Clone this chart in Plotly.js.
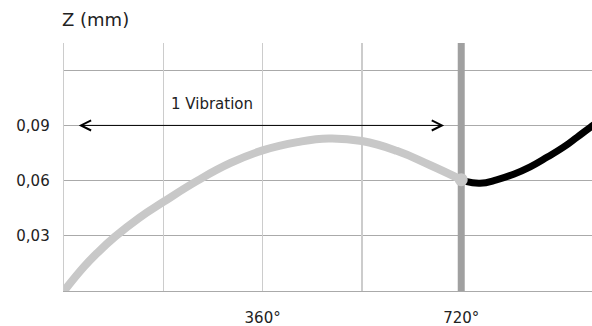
<!DOCTYPE html>
<html>
<head>
<meta charset="utf-8">
<script src="https://cdn.plot.ly/plotly-3.0.1.min.js"></script>
<style>html,body{margin:0;padding:0;background:#fff;}#chart{width:592px;height:326px;}</style>
</head>
<body>
<div id="chart"></div>
<script>
// Phase angle (degrees) and Z displacement (mm)
var vibrationDeg = [0, 36, 60, 92, 136, 180, 242, 302, 360, 423, 480, 540, 603, 663, 720];
var vibrationZ   = [0, 0.0131, 0.0206, 0.0294, 0.0397, 0.0484, 0.0600, 0.0696, 0.0764, 0.0809, 0.0829, 0.0815, 0.0762, 0.0685, 0.0605];
var nextDeg = [728, 754, 784, 815, 845, 876, 906, 930, 954, 975];
var nextZ   = [0.0596, 0.0586, 0.0604, 0.0635, 0.0675, 0.0728, 0.0783, 0.0836, 0.0890, 0.0935];
var xTickVals = [0, 180, 360, 540, 720];
var xTickText = ['', '', '360°', '', '720°'];
var gridDeg = [0, 180, 360, 540];
var yTickVals = [0.03, 0.06, 0.09, 0.12];
var yTickText = ['0,03', '0,06', '0,09', ''];
var xMax = 957, yMax = 0.1348;
var periodEnd = 720;
var arrowFrom = 24, arrowTo = 689, arrowZ = 0.09;
var arrowLabel = '1 Vibration';
var labelDeg = 268, labelZ = 0.1015;

var FONT = '"DejaVu Sans", "Open Sans", sans-serif';
var TXT = '#222';

var traces = [
  // invisible trace to activate the grid-only overlay axis
  {x: gridDeg, y: [0, 0, 0, 0], xaxis: 'x2', mode: 'lines', line: {width: 0}, hoverinfo: 'skip', showlegend: false, opacity: 0},
  // period boundary bar at 720°
  {x: [periodEnd, periodEnd], y: [0, yMax], mode: 'lines', line: {color: '#a0a0a0', width: 7}, hoverinfo: 'skip'},
  {x: vibrationDeg, y: vibrationZ, mode: 'lines', line: {color: '#c8c8c8', width: 8, shape: 'spline', smoothing: 1.3}, hoverinfo: 'skip'},
  {x: nextDeg, y: nextZ, mode: 'lines', line: {color: '#000', width: 7, shape: 'spline', smoothing: 1.3}, hoverinfo: 'skip'},
  {x: [vibrationDeg[vibrationDeg.length - 1]], y: [vibrationZ[vibrationZ.length - 1]], mode: 'markers', marker: {color: '#c8c8c8', size: 13}, hoverinfo: 'skip'}
];

var layout = {
  width: 592, height: 326,
  margin: {l: 64, r: 0, t: 43, b: 35},
  paper_bgcolor: '#fff', plot_bgcolor: '#fff',
  showlegend: false,
  font: {family: FONT, color: TXT, size: 15},
  title: {text: 'Z (mm)', x: 62 / 592, xanchor: 'left', xref: 'container', y: 1 - 20 / 326, yanchor: 'middle', yref: 'container', font: {family: FONT, size: 18, color: TXT}},
  xaxis: {
    range: [0, xMax], tickvals: xTickVals, ticktext: xTickText,
    showgrid: false, zeroline: false,
    showline: true, linecolor: '#aaaaaa', linewidth: 1,
    ticks: 'outside', ticklen: 13, tickcolor: 'rgba(0,0,0,0)',
    tickfont: {family: FONT, size: 15, color: TXT}, fixedrange: true
  },
  xaxis2: {
    overlaying: 'x', matches: 'x', range: [0, xMax], tickvals: gridDeg,
    showticklabels: false, ticks: '', showgrid: true, gridcolor: '#cccccc', gridwidth: 1.3,
    zeroline: false, showline: false, fixedrange: true
  },
  yaxis: {
    range: [0, yMax], tickvals: yTickVals, ticktext: yTickText,
    showgrid: true, gridcolor: '#aaaaaa', gridwidth: 1, zeroline: false,
    showline: true, linecolor: '#cccccc', linewidth: 1.3,
    ticks: 'outside', ticklen: 10, tickcolor: 'rgba(0,0,0,0)',
    tickfont: {family: FONT, size: 15, color: TXT}, fixedrange: true
  },
  annotations: [
    {xref: 'x', yref: 'y', axref: 'x', ayref: 'y', x: arrowTo, y: arrowZ, ax: arrowFrom, ay: arrowZ, text: '',
     showarrow: true, arrowside: 'end+start', arrowhead: 5, startarrowhead: 5, arrowsize: 2, startarrowsize: 2, arrowwidth: 1, arrowcolor: '#000'},
    {xref: 'x', yref: 'y', x: labelDeg, y: labelZ, text: arrowLabel, showarrow: false, font: {family: FONT, size: 15, color: TXT}}
  ]
};

Plotly.newPlot('chart', traces, layout, {staticPlot: true, displayModeBar: false});
</script>
</body>
</html>
